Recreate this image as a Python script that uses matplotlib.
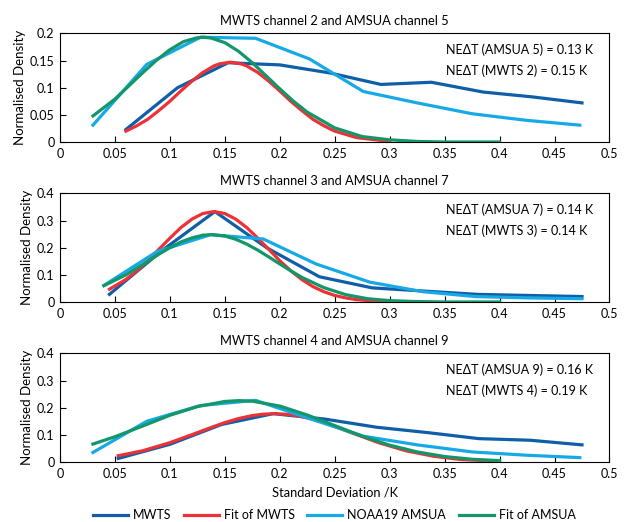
import matplotlib
matplotlib.use("Agg")
import matplotlib.pyplot as plt

plt.rcParams['font.family'] = ['Lato', 'DejaVu Sans']
plt.rcParams['font.size'] = 9

# colours
c_mwts = '#0f5fa8'
c_fit_mwts = '#ec3237'
c_amsua = '#17a9e6'
c_fit_amsua = '#13966a'

# --- panel 1: MWTS ch2 / AMSUA ch5 ---
p1_mwts_x = [0.06, 0.107, 0.153, 0.2, 0.246, 0.292, 0.338, 0.385, 0.43, 0.475]
p1_mwts_y = [0.023, 0.1, 0.146, 0.142, 0.127, 0.106, 0.11, 0.092, 0.083, 0.072]
p1_amsua_x = [0.03, 0.079, 0.128, 0.178, 0.227, 0.276, 0.325, 0.375, 0.424, 0.473]
p1_amsua_y = [0.031, 0.143, 0.193, 0.191, 0.153, 0.093, 0.072, 0.052, 0.04, 0.031]
p1_fitm_x = [0.06, 0.07, 0.08, 0.09, 0.1, 0.11, 0.12, 0.13, 0.14, 0.145, 0.155, 0.165,
             0.17, 0.18, 0.19, 0.2, 0.21, 0.22, 0.23, 0.24, 0.25, 0.27, 0.3]
p1_fitm_y = [0.020, 0.030, 0.042, 0.058, 0.075, 0.094, 0.112, 0.128, 0.140, 0.1438, 0.147, 0.1438,
             0.140, 0.128, 0.112, 0.094, 0.075, 0.058, 0.042, 0.030, 0.020, 0.008, 0.001]
p1_fita_x = [0.03, 0.05, 0.075, 0.0875, 0.1, 0.1125, 0.125, 0.13, 0.1375, 0.15, 0.1625, 0.175,
             0.1875, 0.2, 0.2125, 0.225, 0.25, 0.275, 0.3, 0.325, 0.35, 0.375, 0.4]
p1_fita_y = [0.048, 0.079, 0.127, 0.150, 0.170, 0.185, 0.192, 0.193, 0.1915, 0.183, 0.167, 0.146,
             0.122, 0.098, 0.075, 0.055, 0.026, 0.010, 0.004, 0.001, 0.0, 0.0, 0.0]

# --- panel 2: MWTS ch3 / AMSUA ch7 ---
p2_mwts_x = [0.045, 0.093, 0.141, 0.188, 0.236, 0.284, 0.332, 0.38, 0.427, 0.475]
p2_mwts_y = [0.028, 0.19, 0.333, 0.2, 0.093, 0.052, 0.04, 0.028, 0.024, 0.02]
p2_amsua_x = [0.04, 0.088, 0.137, 0.185, 0.233, 0.282, 0.33, 0.378, 0.427, 0.475]
p2_amsua_y = [0.061, 0.185, 0.248, 0.232, 0.14, 0.073, 0.038, 0.02, 0.015, 0.012]
p2_fitm_x = [0.045, 0.06, 0.07, 0.08, 0.09, 0.1, 0.11, 0.12, 0.13, 0.14, 0.15, 0.16, 0.17,
             0.18, 0.19, 0.2, 0.21, 0.22, 0.23, 0.24, 0.25, 0.26, 0.27, 0.28, 0.3]
p2_fitm_y = [0.047, 0.083, 0.115, 0.152, 0.194, 0.235, 0.274, 0.305, 0.326, 0.333, 0.326, 0.305, 0.274,
             0.235, 0.194, 0.152, 0.115, 0.083, 0.057, 0.038, 0.024, 0.015, 0.0085, 0.005, 0.001]
p2_fita_x = [0.04, 0.06, 0.08, 0.09, 0.1, 0.11, 0.12, 0.13, 0.138, 0.15, 0.16, 0.17, 0.18,
             0.19, 0.2, 0.21, 0.22, 0.24, 0.26, 0.28, 0.3, 0.32, 0.35, 0.4]
p2_fita_y = [0.060, 0.100, 0.150, 0.176, 0.200, 0.221, 0.236, 0.246, 0.248, 0.243, 0.231, 0.213, 0.191,
             0.166, 0.140, 0.115, 0.091, 0.053, 0.027, 0.012, 0.005, 0.002, 0.0, 0.0]

# --- panel 3: MWTS ch4 / AMSUA ch9 ---
p3_mwts_x = [0.053, 0.1, 0.147, 0.194, 0.241, 0.288, 0.335, 0.381, 0.428, 0.475]
p3_mwts_y = [0.013, 0.065, 0.138, 0.178, 0.158, 0.128, 0.108, 0.086, 0.08, 0.063]
p3_amsua_x = [0.03, 0.079, 0.128, 0.178, 0.227, 0.276, 0.325, 0.375, 0.424, 0.473]
p3_amsua_y = [0.035, 0.15, 0.208, 0.227, 0.16, 0.095, 0.063, 0.037, 0.025, 0.016]
p3_fitm_x = [0.053, 0.075, 0.1, 0.125, 0.1375, 0.15, 0.1625, 0.175, 0.185, 0.195, 0.205,
             0.215, 0.2275, 0.24, 0.2525, 0.265, 0.29, 0.315, 0.34, 0.365, 0.4]
p3_fitm_y = [0.023, 0.041, 0.071, 0.108, 0.127, 0.145, 0.160, 0.171, 0.176, 0.178, 0.176,
             0.171, 0.160, 0.145, 0.127, 0.108, 0.071, 0.041, 0.021, 0.009, 0.002]
p3_fita_x = [0.03, 0.05, 0.075, 0.1, 0.125, 0.15, 0.163, 0.175, 0.2, 0.225, 0.25, 0.275,
             0.3, 0.325, 0.35, 0.375, 0.4]
p3_fita_y = [0.066, 0.093, 0.132, 0.172, 0.204, 0.223, 0.226, 0.224, 0.206, 0.173, 0.134, 0.095,
             0.062, 0.037, 0.020, 0.010, 0.005]

titles = ["MWTS channel 2 and AMSUA channel 5",
          "MWTS channel 3 and AMSUA channel 7",
          "MWTS channel 4 and AMSUA channel 9"]
notes = [("NE\u0394T (AMSUA 5) = 0.13 K", "NE\u0394T (MWTS 2) = 0.15 K"),
         ("NE\u0394T (AMSUA 7) = 0.14 K", "NE\u0394T (MWTS 3) = 0.14 K"),
         ("NE\u0394T (AMSUA 9) = 0.16 K", "NE\u0394T (MWTS 4) = 0.19 K")]
ylims = [0.2, 0.4, 0.4]
yticks = [[0, 0.05, 0.1, 0.15, 0.2], [0, 0.1, 0.2, 0.3, 0.4], [0, 0.1, 0.2, 0.3, 0.4]]
ytlabels = [["0", "0.05", "0.1", "0.15", "0.2"], ["0", "0.1", "0.2", "0.3", "0.4"], ["0", "0.1", "0.2", "0.3", "0.4"]]
xticks = [0, 0.05, 0.1, 0.15, 0.2, 0.25, 0.3, 0.35, 0.4, 0.45, 0.5]
xtlabels = ["0", "0.05", "0.1", "0.15", "0.2", "0.25", "0.3", "0.35", "0.4", "0.45", "0.5"]

panels = [
    (p1_mwts_x, p1_mwts_y, p1_fitm_x, p1_fitm_y, p1_amsua_x, p1_amsua_y, p1_fita_x, p1_fita_y),
    (p2_mwts_x, p2_mwts_y, p2_fitm_x, p2_fitm_y, p2_amsua_x, p2_amsua_y, p2_fita_x, p2_fita_y),
    (p3_mwts_x, p3_mwts_y, p3_fitm_x, p3_fitm_y, p3_amsua_x, p3_amsua_y, p3_fita_x, p3_fita_y),
]

fig = plt.figure(figsize=(6.28, 5.22), dpi=100)
bottoms = [0.728, 0.4215, 0.115]
lw = 2.3

for k, (mx, my, fmx, fmy, ax_, ay, fax, fay) in enumerate(panels):
    ax = fig.add_axes([0.0955, bottoms[k], 0.875, 0.208])
    ax.plot(mx, my, color=c_mwts, lw=lw, label='MWTS', zorder=2)
    ax.plot(fmx, fmy, color=c_fit_mwts, lw=lw, label='Fit of MWTS', zorder=3)
    ax.plot(ax_, ay, color=c_amsua, lw=lw, label='NOAA19 AMSUA', zorder=4)
    ax.plot(fax, fay, color=c_fit_amsua, lw=lw, label='Fit of AMSUA', zorder=5)
    ax.set_xlim(0, 0.5)
    ax.set_ylim(0, ylims[k])
    ax.set_xticks(xticks)
    ax.set_xticklabels(xtlabels)
    ax.set_yticks(yticks[k])
    ax.set_yticklabels(ytlabels[k])
    ax.tick_params(direction='in', length=4, width=0.8, pad=4)
    for sp in ax.spines.values():
        sp.set_linewidth(0.8)
    ax.set_title(titles[k], fontsize=9.3, pad=6)
    ax.set_ylabel("Normalised Density", fontsize=9.5, labelpad=3)
    ax.text(0.702, 0.85, notes[k][0], transform=ax.transAxes, va='center', ha='left', fontsize=9)
    ax.text(0.702, 0.66, notes[k][1], transform=ax.transAxes, va='center', ha='left', fontsize=9)
    if k == 2:
        ax.set_xlabel("Standard Deviation /K", fontsize=9.3, labelpad=5)
        handles, labels = ax.get_legend_handles_labels()

fig.legend(handles, labels, loc='center', bbox_to_anchor=(0.532, 0.0134), ncol=4,
           frameon=False, fontsize=9, handlelength=2.8, handletextpad=0.4,
           columnspacing=1.0, borderaxespad=0)

fig.savefig("out.png", dpi=100)
